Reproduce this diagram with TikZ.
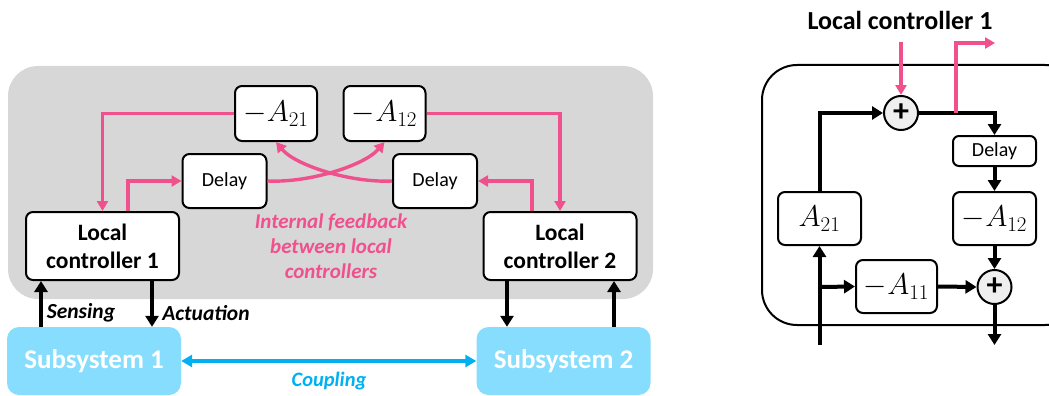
\RequirePackage{fix-cm}
\documentclass[tikz,border=0pt]{standalone}
\usepackage{fontspec}
\setmainfont{Carlito}
\usetikzlibrary{arrows.meta}
\definecolor{fbpink}{HTML}{F0508C}
\definecolor{cplblue}{HTML}{00B0F0}
\definecolor{subfill}{HTML}{87DDFD}
\definecolor{bggray}{HTML}{D7D7D7}
\definecolor{sumfill}{HTML}{EFEFEF}
\tikzset{
  blockbox/.style={draw=black, line width=2pt, rounded corners=7pt, fill=white, inner sep=0pt, align=center},
  ctrlbox/.style={blockbox, minimum width=153pt, minimum height=68pt, font=\fontsize{23.5}{28}\selectfont\bfseries},
  delaybox/.style={blockbox, minimum width=84pt, minimum height=54pt, font=\fontsize{20}{22}\selectfont},
  gainbox/.style={blockbox, minimum width=82pt, minimum height=55pt, font=\fontsize{30}{30}\selectfont},
  subbox/.style={fill=subfill, rounded corners=12pt, minimum width=174pt, minimum height=68pt, inner sep=0pt, text=white, font=\fontsize{27}{28}\selectfont\bfseries},
  sumnode/.style={circle, draw=black, line width=2pt, fill=sumfill, minimum size=34pt, inner sep=0pt, font=\fontsize{32}{32}\selectfont\bfseries},
  fbline/.style={draw=fbpink, line width=3.4pt, -{Triangle[length=10pt,width=11pt]}},
  sigline/.style={draw=black, line width=4pt, -{Triangle[length=11pt,width=13pt]}},
  cplline/.style={draw=cplblue, line width=3.5pt, {Triangle[length=11pt,width=12pt]}-{Triangle[length=11pt,width=12pt]}},
  lbl/.style={inner sep=0pt, font=\fontsize{21.5}{24}\selectfont\bfseries\itshape},
}
\begin{document}
\begin{tikzpicture}[x=1pt,y=-1pt]
\useasboundingbox (0,0) rectangle (1049,396);
\clip (0,0) rectangle (1049,396);

% ---------- distributed controller ----------
\fill[bggray, rounded corners=30pt] (8,66) rectangle (653,299);

\node[gainbox] (mA21) at (276,113.5) {$-A_{21}$};
\node[gainbox] (mA12) at (384.5,113.5) {$-A_{12}$};
\node[delaybox] (d1) at (224.5,181) {Delay};
\node[delaybox] (d2) at (435,181) {Delay};
\node[ctrlbox] (lc1) at (102.5,246) {Local\\controller 1};
\node[ctrlbox] (lc2) at (560,246) {Local\\controller 2};
\node[subbox] (s1) at (94,361) {Subsystem 1};
\node[subbox] (s2) at (563.5,361) {Subsystem 2};

% internal feedback paths
\draw[fbline] (mA21.west) -| (lc1.north);
\draw[fbline] (mA12.east) -| (lc2.north);
\draw[fbline] ([xshift=25.5pt]lc1.north) |- (d1.west);
\draw[fbline] ([xshift=-28pt]lc2.north) |- (d2.east);
\draw[fbline] (d1.east) .. controls (310,183) and (365,165) .. (mA12.south);
\draw[fbline] (d2.west) .. controls (350,183) and (295,165) .. (mA21.south);

\node[lbl, text=fbpink, align=center, font=\fontsize{21}{25}\selectfont\bfseries\itshape] (fbtxt) at (331,246) {Internal feedback\\between local\\controllers};

% sensing and actuation
\coordinate (xs1) at (41,0);
\coordinate (xa1) at (152,0);
\coordinate (xa2) at (507,0);
\coordinate (xs2) at (614,0);
\draw[sigline] (s1.north -| xs1) -- (lc1.south -| xs1);
\draw[sigline] (lc1.south -| xa1) -- (s1.north -| xa1);
\draw[sigline] (lc2.south -| xa2) -- (s2.north -| xa2);
\draw[sigline] (s2.north -| xs2) -- (lc2.south -| xs2);
\node[lbl] (sens) at (81,313) {Sensing};
\node[lbl] (act) at (206,313) {Actuation};

% coupling
\draw[cplline] (s1.east) -- (s2.west);
\node[lbl, text=cplblue, font=\fontsize{20.5}{22}\selectfont\bfseries\itshape] (cpl) at (329,381) {Coupling};

% ---------- inside local controller 1 ----------
\node[inner sep=0pt, font=\fontsize{26}{28}\selectfont\bfseries] (title) at (900,20) {Local controller 1};
\draw[line width=2pt, rounded corners=35pt] (762,65) rectangle (1080,325);

\node[sumnode] (sum1) at (901,113) {+};
\node[sumnode] (sum2) at (994.5,287) {+};
\node[blockbox, minimum width=83pt, minimum height=30pt, rounded corners=6pt, font=\fontsize{20}{22}\selectfont] (rd) at (994.5,151) {Delay};
\node[gainbox, minimum width=83pt, minimum height=53pt] (rA12) at (994.5,218.5) {$-A_{12}$};
\node[gainbox, minimum width=83pt, minimum height=53pt] (rA21) at (819.5,218.5) {$A_{21}$};
\node[gainbox, minimum width=81pt, minimum height=53pt] (rA11) at (896.5,286.5) {$-A_{11}$};

\coordinate (pin) at (901,42);
\coordinate (ptap) at (956,113);
\coordinate (pout) at (995,43);
\coordinate (xin) at (819.5,345);
\coordinate (xbr) at (819.5,287);
\coordinate (yout) at (994.5,345);

\draw[fbline] (pin) -- (sum1.north);
\draw[sigline] (sum1.east) -| (rd.north);
\draw[fbline] (ptap) |- (pout);
\draw[sigline] (rd.south) -- (rA12.north);
\draw[sigline] (rA12.south) -- (sum2.north);
\draw[sigline] (sum2.south) -- (yout);
\draw[sigline] (xin) -- (rA21.south);
\draw[sigline] (rA21.north) |- (sum1.west);
\draw[sigline] (xbr) -- (rA11.west);
\draw[sigline] (rA11.east) -- (sum2.west);
\end{tikzpicture}
\end{document}
